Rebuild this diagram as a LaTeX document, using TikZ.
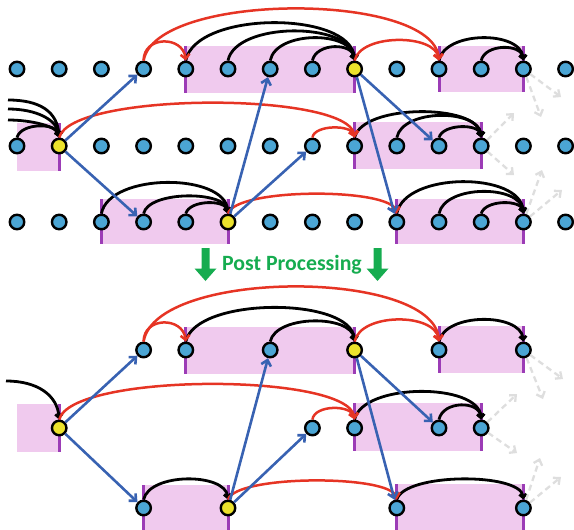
\documentclass[tikz,border=0pt]{standalone}
\usepackage{fontspec}
\newfontfamily\ppfont{Carlito}
\usetikzlibrary{arrows.meta}
\definecolor{nodeblue}{RGB}{75,165,212}
\definecolor{hubyellow}{RGB}{236,226,44}
\definecolor{bandpink}{RGB}{240,202,238}
\definecolor{edgepurple}{RGB}{156,60,182}
\definecolor{linkred}{RGB}{230,52,36}
\definecolor{jumpblue}{RGB}{56,98,178}
\definecolor{ghostgrey}{RGB}{222,222,222}
\definecolor{ppgreen}{RGB}{22,172,80}
\begin{document}
\begin{tikzpicture}[x=1pt,y=-1pt,
  nd/.style={circle,draw=black,line width=2.4pt,fill=nodeblue,minimum size=14.5pt,inner sep=0pt},
  hub/.style={nd,fill=hubyellow},
  band/.style={fill=bandpink},
  edgeline/.style={draw=edgepurple,line width=3pt},
  blk/.style={draw=black,line width=2.8pt,-{Straight Barb[length=3.5pt,width=7pt]}},
  rdarc/.style={draw=linkred,line width=2.5pt,-{Straight Barb[length=4.5pt,width=9pt]}},
  blu/.style={draw=jumpblue,line width=2.6pt,-{Straight Barb[length=5.5pt,width=10pt]}},
  ghost/.style={draw=ghostgrey,line width=2.3pt,dash pattern=on 6pt off 4pt,-{Straight Barb[length=5pt,width=9pt]}},
  bigarrow/.style={fill=ppgreen}
]
\useasboundingbox (0,0) rectangle (574,530);

% ---------- shaded segments (top half) ----------
\fill[band] (185.8,46) rectangle (354.6,93);
\fill[band] (439,46) rectangle (523.4,92);
\fill[band] (17,123) rectangle (59.2,171);
\fill[band] (354.6,122) rectangle (481.2,169);
\fill[band] (101.4,199) rectangle (228,244);
\fill[band] (396.8,199) rectangle (523.4,244);
\draw[edgeline] (185.8,46) -- (185.8,93);
\draw[edgeline] (354.6,46) -- (354.6,93);
\draw[edgeline] (439,46) -- (439,92);
\draw[edgeline] (523.4,46) -- (523.4,92);
\draw[edgeline] (59.2,123) -- (59.2,171);
\draw[edgeline] (354.6,122) -- (354.6,169);
\draw[edgeline] (481.2,122) -- (481.2,169);
\draw[edgeline] (101.4,199) -- (101.4,244);
\draw[edgeline] (228,199) -- (228,244);
\draw[edgeline] (396.8,199) -- (396.8,244);
\draw[edgeline] (523.4,199) -- (523.4,244);

% ---------- shaded segments (bottom half) ----------
\fill[band] (185.8,327) rectangle (354.6,374);
\fill[band] (439,326) rectangle (523.4,373);
\fill[band] (17,404) rectangle (59.2,452);
\fill[band] (354.6,403) rectangle (481.2,451);
\fill[band] (143.6,485) rectangle (228,530);
\fill[band] (396.8,484) rectangle (523.4,530);
\draw[edgeline] (185.8,327) -- (185.8,374);
\draw[edgeline] (354.6,327) -- (354.6,374);
\draw[edgeline] (439,326) -- (439,373);
\draw[edgeline] (523.4,326) -- (523.4,373);
\draw[edgeline] (59.2,404) -- (59.2,452);
\draw[edgeline] (354.6,403) -- (354.6,451);
\draw[edgeline] (481.2,403) -- (481.2,451);
\draw[edgeline] (143.6,485) -- (143.6,530);
\draw[edgeline] (228,485) -- (228,530);
\draw[edgeline] (396.8,484) -- (396.8,530);
\draw[edgeline] (523.4,484) -- (523.4,530);

% ---------- nodes, top half ----------
\foreach \c in {0,...,7,9,10,11,12,13} \node[nd] (t1-\c) at ({17+42.2*\c},69) {};
\node[hub] (t1-8) at ({17+42.2*8},69) {};
\foreach \c in {0,2,3,...,13} \node[nd] (t2-\c) at ({17+42.2*\c},146) {};
\node[hub] (t2-1) at ({17+42.2*1},146) {};
\foreach \c in {0,1,2,3,4,6,7,...,13} \node[nd] (t3-\c) at ({17+42.2*\c},222) {};
\node[hub] (t3-5) at ({17+42.2*5},222) {};

% ---------- nodes, bottom half ----------
\foreach \c in {3,4,6,10,12} \node[nd] (b1-\c) at ({17+42.2*\c},350) {};
\node[hub] (b1-8) at ({17+42.2*8},350) {};
\foreach \c in {7,8,10,11} \node[nd] (b2-\c) at ({17+42.2*\c},428) {};
\node[hub] (b2-1) at ({17+42.2*1},428) {};
\foreach \c in {3,9,12} \node[nd] (b3-\c) at ({17+42.2*\c},508) {};
\node[hub] (b3-5) at ({17+42.2*5},508) {};

% free ends
\coordinate (inA) at (8,100);
\coordinate (inB) at (8,109);
\coordinate (inC) at (8,120);
\coordinate (inD) at (6,381);
\coordinate (g1a) at (561,97);
\coordinate (g1b) at (541,117);
\coordinate (g2a) at (514,113);
\coordinate (g2b) at (514,175);
\coordinate (g3a) at (542,170);
\coordinate (g3b) at (562,190);
\coordinate (h1a) at (563,379);
\coordinate (h1b) at (543,399);
\coordinate (h2a) at (517,394);
\coordinate (h2b) at (517,453);
\coordinate (h3a) at (540,458);
\coordinate (h3b) at (561,477);

% ---------- top half: black arcs ----------
\draw[blk] (t1-4.north) .. controls +(10,-50) and +(-4,-50) .. (t1-8.north);
\draw[blk] (t1-5.north) .. controls +(8,-39) and +(-4,-39) .. (t1-8.north);
\draw[blk] (t1-6.north) .. controls +(6,-30) and +(-3,-30) .. (t1-8.north);
\draw[blk] (t1-7.north) .. controls +(4,-18) and +(-2,-18) .. (t1-8.north);
\draw[blk] (t1-10.north) .. controls +(6,-30) and +(-3,-30) .. (t1-12.north);
\draw[blk] (t1-11.north) .. controls +(4,-17) and +(-2,-17) .. (t1-12.north);
\draw[blk] (inA) .. controls +(32,0) and +(-2,-26) .. (t2-1.north);
\draw[blk] (inB) .. controls +(28,0) and +(-2,-18) .. (t2-1.north);
\draw[blk] (inC) .. controls +(24,0) and +(-2,-11) .. (t2-1.north);
\draw[blk] (t2-0.north) .. controls +(4,-15) and +(-2,-15) .. (t2-1.north);
\draw[blk] (t2-8.north) .. controls +(8,-34) and +(-3,-34) .. (t2-11.north);
\draw[blk] (t2-9.north) .. controls +(6,-29) and +(-3,-29) .. (t2-11.north);
\draw[blk] (t2-10.north) .. controls +(4,-14) and +(-2,-14) .. (t2-11.north);
\draw[blk] (t3-2.north) .. controls +(8,-41) and +(-3,-41) .. (t3-5.north);
\draw[blk] (t3-3.north) .. controls +(5,-23) and +(-2,-23) .. (t3-5.north);
\draw[blk] (t3-4.north) .. controls +(4,-14) and +(-2,-14) .. (t3-5.north);
\draw[blk] (t3-9.north) .. controls +(8,-42) and +(-3,-42) .. (t3-12.north);
\draw[blk] (t3-10.north) .. controls +(6,-29) and +(-3,-29) .. (t3-12.north);
\draw[blk] (t3-11.north) .. controls +(4,-14) and +(-2,-14) .. (t3-12.north);

% ---------- top half: red arcs ----------
\draw[rdarc] (t1-3.north) .. controls +(0,-25) and +(-3,-25) .. (t1-4.north);
\draw[rdarc] (t1-3.north) .. controls +(12,-69) and +(-6,-69) .. (t1-10.north);
\draw[rdarc] (t1-8.north) .. controls +(6,-27) and +(-4,-27) .. (t1-10.north);
\draw[rdarc] (t2-1.north) .. controls +(12,-46) and +(-6,-46) .. (t2-8.north);
\draw[rdarc] (t2-7.north) .. controls +(2,-13) and +(-3,-13) .. (t2-8.north);
\draw[rdarc] (t3-5.north) .. controls +(8,-26) and +(-6,-26) .. (t3-9.north);

% ---------- top half: blue jumps ----------
\draw[blu] (t2-1) -- (t1-3);
\draw[blu] (t2-1) -- (t3-3);
\draw[blu] (t3-5) -- (t1-6);
\draw[blu] (t3-5) -- (t2-7);
\draw[blu] (t1-8) -- (t2-10);
\draw[blu] (t1-8) -- (t3-9);

% ---------- top half: grey dashed continuations ----------
\draw[ghost] (t1-12) -- (g1a);
\draw[ghost] (t1-12) -- (g1b);
\draw[ghost] (t2-11) -- (g2a);
\draw[ghost] (t2-11) -- (g2b);
\draw[ghost] (t3-12) -- (g3a);
\draw[ghost] (t3-12) -- (g3b);

% ---------- post processing banner ----------
\fill[bigarrow] (201.5,248) -- (209.5,248) -- (209.5,268.5) -- (216.5,268.5) -- (205.5,281)
  -- (194.5,268.5) -- (201.5,268.5) -- cycle;
\fill[bigarrow] (373.5,248) -- (381.5,248) -- (381.5,268.5) -- (388.5,268.5) -- (377.5,281)
  -- (366.5,268.5) -- (373.5,268.5) -- cycle;
\node[anchor=base,text=ppgreen,font=\ppfont\bfseries\fontsize{21.8}{24}\selectfont,inner sep=0pt]
  (pp) at (292,270) {Post Processing};

% ---------- bottom half: black arcs ----------
\draw[blk] (b1-4.north) .. controls +(10,-45) and +(-4,-45) .. (b1-8.north);
\draw[blk] (b1-6.north) .. controls +(6,-27) and +(-3,-27) .. (b1-8.north);
\draw[blk] (b1-10.north) .. controls +(6,-29) and +(-3,-29) .. (b1-12.north);
\draw[blk] (inD) .. controls +(32,0) and +(-2,-24) .. (b2-1.north);
\draw[blk] (b2-8.north) .. controls +(8,-37) and +(-3,-37) .. (b2-11.north);
\draw[blk] (b2-10.north) .. controls +(4,-19) and +(-2,-19) .. (b2-11.north);
\draw[blk] (b3-3.north) .. controls +(6,-27) and +(-3,-27) .. (b3-5.north);
\draw[blk] (b3-9.north) .. controls +(8,-27) and +(-3,-27) .. (b3-12.north);

% ---------- bottom half: red arcs ----------
\draw[rdarc] (b1-3.north) .. controls +(0,-25) and +(-3,-25) .. (b1-4.north);
\draw[rdarc] (b1-3.north) .. controls +(12,-73) and +(-6,-73) .. (b1-10.north);
\draw[rdarc] (b1-8.north) .. controls +(6,-29) and +(-4,-29) .. (b1-10.north);
\draw[rdarc] (b2-1.north) .. controls +(12,-47) and +(-6,-47) .. (b2-8.north);
\draw[rdarc] (b2-7.north) .. controls +(2,-15) and +(-3,-15) .. (b2-8.north);
\draw[rdarc] (b3-5.north) .. controls +(8,-25) and +(-6,-25) .. (b3-9.north);

% ---------- bottom half: blue jumps ----------
\draw[blu] (b2-1) -- (b1-3);
\draw[blu] (b2-1) -- (b3-3);
\draw[blu] (b3-5) -- (b1-6);
\draw[blu] (b3-5) -- (b2-7);
\draw[blu] (b1-8) -- (b2-10);
\draw[blu] (b1-8) -- (b3-9);

% ---------- bottom half: grey dashed continuations ----------
\draw[ghost] (b1-12) -- (h1a);
\draw[ghost] (b1-12) -- (h1b);
\draw[ghost] (b2-11) -- (h2a);
\draw[ghost] (b2-11) -- (h2b);
\draw[ghost] (b3-12) -- (h3a);
\draw[ghost] (b3-12) -- (h3b);
\end{tikzpicture}
\end{document}
